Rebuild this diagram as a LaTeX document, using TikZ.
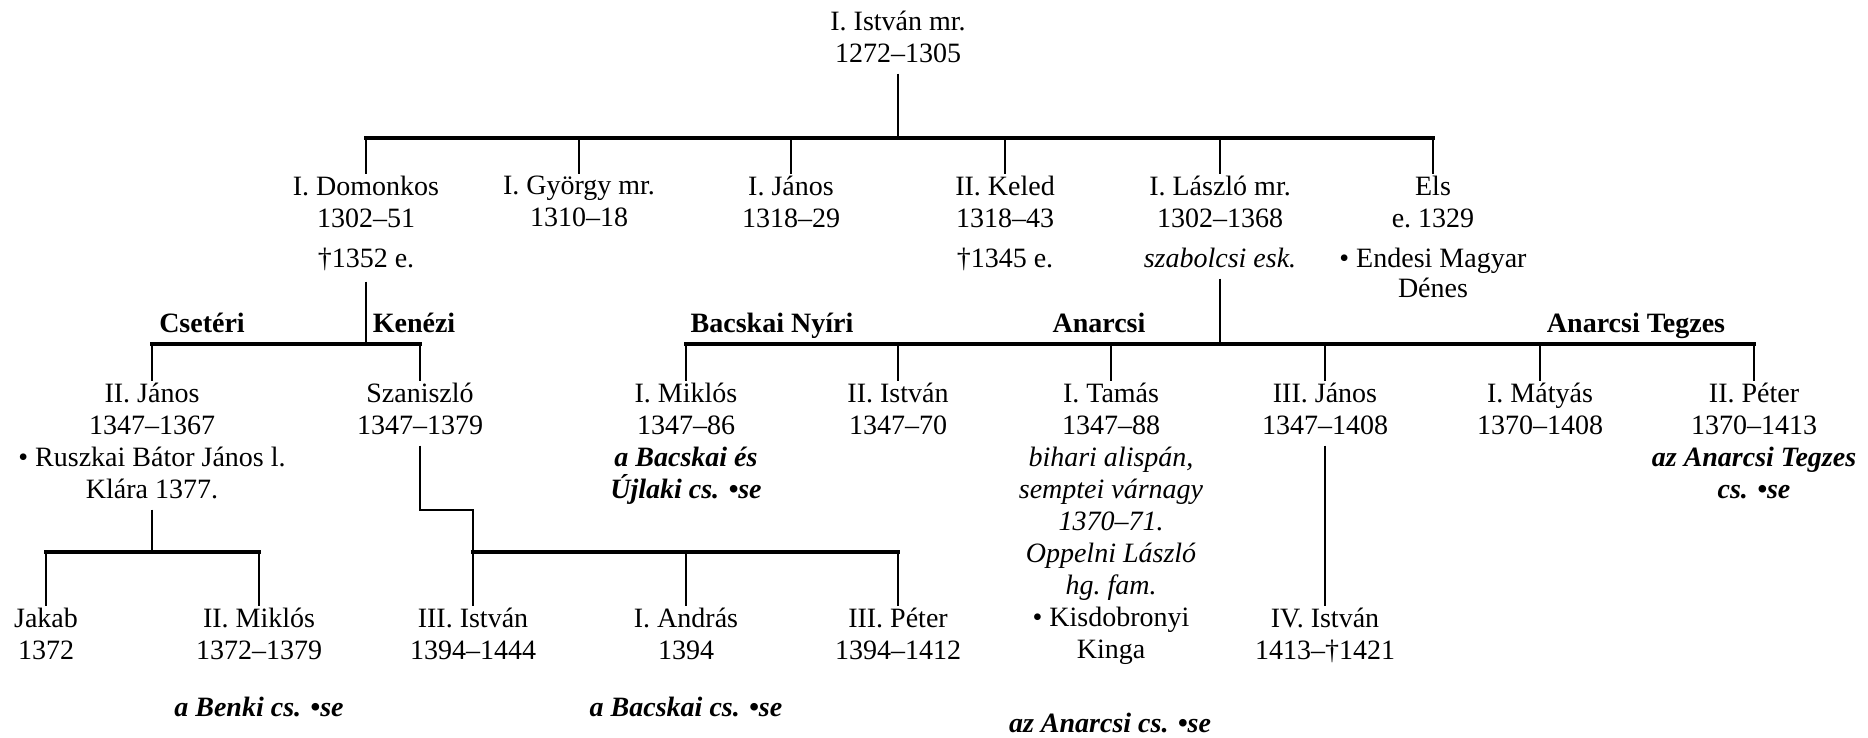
\documentclass[tikz,border=0pt]{standalone}
\usepackage{fontspec}
\setmainfont{Liberation Serif}
\usepackage{tikz}
\newcommand{\famsize}{\fontsize{14}{16}\selectfont}
\tikzset{
  person/.style={anchor=north, align=center, inner xsep=0pt, inner ysep=1pt},
  clan/.style={anchor=base, font=\famsize\bfseries},
  branchnote/.style={anchor=base, font=\famsize\bfseries\itshape},
  stem/.style={line width=1.2pt},
  stemdown/.style={stem, shorten <=4pt},
  bar/.style={line width=1.6pt, line cap=rect}
}
\begin{document}
\begin{tikzpicture}[x=0.5pt, y=-0.5pt, font=\famsize]
\useasboundingbox (0,0) rectangle (1868,738);
\node[name=istvan_1, person] at (898,9) {I. István mr.\\1272–1305};

\node[name=domonkos_1, person] at (366,174) {I. Domonkos\\1302–51\\[4pt]†1352 e.};
\node[name=gyorgy_1, person] at (579,174) {I. György mr.\\1310–18};
\node[name=janos_1, person] at (791,174) {I. János\\1318–29};
\node[name=keled_2, person] at (1005,174) {II. Keled\\1318–43\\[4pt]†1345 e.};
\node[name=laszlo_1, person] at (1220,174) {I. László mr.\\1302–1368\\[4pt]\textit{szabolcsi esk.}};
\node[name=els, person] at (1433,174) {Els\\e.\ 1329\\[4pt]• Endesi Magyar\\[-1pt]Dénes};

\node[name=cseteri, clan] at (202,332) {Csetéri};
\node[name=kenezi, clan] at (414,332) {Kenézi};
\node[name=bacskai_nyiri, clan] at (772,332) {Bacskai Nyíri};
\node[name=anarcsi_cl, clan] at (1099,332) {Anarcsi};
\node[name=anarcsi_tegzes, clan] at (1636,332) {Anarcsi Tegzes};

\node[name=janos_2, person] at (152,381) {II. János\\1347–1367\\• Ruszkai Bátor János l.\\Klára 1377.};
\node[name=szaniszlo, person] at (420,381) {Szaniszló\\1347–1379};
\node[name=miklos_1, person] at (686,381) {I. Miklós\\1347–86\\\textbf{\textit{a Bacskai és}}\\\textbf{\textit{Újlaki cs. •se}}};
\node[name=istvan_2, person] at (898,381) {II. István\\1347–70};
\node[name=tamas_1, person] at (1111,381) {I. Tamás\\1347–88\\\textit{bihari alispán,}\\\textit{semptei várnagy}\\\textit{1370–71.}\\\textit{Oppelni László}\\\textit{hg.\ fam.}\\• Kisdobronyi\\Kinga};
\node[name=janos_3, person] at (1325,381) {III. János\\1347–1408};
\node[name=matyas_1, person] at (1540,381) {I. Mátyás\\1370–1408};
\node[name=peter_2, person] at (1754,381) {II. Péter\\1370–1413\\\textbf{\textit{az Anarcsi Tegzes}}\\\textbf{\textit{cs. •se}}};

\node[name=jakab, person] at (46,606) {Jakab\\1372};
\node[name=miklos_2, person] at (259,606) {II. Miklós\\1372–1379};
\node[name=istvan_3, person] at (473,606) {III. István\\1394–1444};
\node[name=andras_1, person] at (686,606) {I. András\\1394};
\node[name=peter_3, person] at (898,606) {III. Péter\\1394–1412};
\node[name=istvan_4, person] at (1325,606) {IV. István\\1413–†1421};

\node[name=benki_cs, branchnote] at (259,716) {a Benki cs. •se};
\node[name=bacskai_cs, branchnote] at (686,716) {a Bacskai cs. •se};
\node[name=anarcsi_cs, branchnote] at (1110,732) {az Anarcsi cs. •se};

\coordinate (bar_1) at (898,138);
\coordinate (bar_2) at (0,344);
\coordinate (bar_3) at (0,552);
\coordinate (step_1) at (473,510);

\draw[stemdown](istvan_1.south) -- (bar_1);
\draw[bar](domonkos_1.north |- bar_1) -- (els.north |- bar_1);
\draw[stem](domonkos_1.north |- bar_1) -- (domonkos_1.north);
\draw[stem](gyorgy_1.north |- bar_1) -- (gyorgy_1.north);
\draw[stem](janos_1.north |- bar_1) -- (janos_1.north);
\draw[stem](keled_2.north |- bar_1) -- (keled_2.north);
\draw[stem](laszlo_1.north |- bar_1) -- (laszlo_1.north);
\draw[stem](els.north |- bar_1) -- (els.north);

\draw[stemdown](domonkos_1.south) -- (domonkos_1.south |- bar_2);
\draw[bar](janos_2.north |- bar_2) -- (szaniszlo.north |- bar_2);
\draw[stem](janos_2.north |- bar_2) -- (janos_2.north);
\draw[stem](szaniszlo.north |- bar_2) -- (szaniszlo.north);

\draw[stemdown](laszlo_1.south) -- (laszlo_1.south |- bar_2);
\draw[bar](miklos_1.north |- bar_2) -- (peter_2.north |- bar_2);
\draw[stem](miklos_1.north |- bar_2) -- (miklos_1.north);
\draw[stem](istvan_2.north |- bar_2) -- (istvan_2.north);
\draw[stem](tamas_1.north |- bar_2) -- (tamas_1.north);
\draw[stem](janos_3.north |- bar_2) -- (janos_3.north);
\draw[stem](matyas_1.north |- bar_2) -- (matyas_1.north);
\draw[stem](peter_2.north |- bar_2) -- (peter_2.north);

\draw[stemdown](janos_2.south) -- (janos_2.south |- bar_3);
\draw[bar](jakab.north |- bar_3) -- (miklos_2.north |- bar_3);
\draw[stem](jakab.north |- bar_3) -- (jakab.north);
\draw[stem](miklos_2.north |- bar_3) -- (miklos_2.north);

\draw[stemdown](szaniszlo.south) |- (step_1) -- (istvan_3.north |- bar_3);
\draw[bar](istvan_3.north |- bar_3) -- (peter_3.north |- bar_3);
\draw[stem](istvan_3.north |- bar_3) -- (istvan_3.north);
\draw[stem](andras_1.north |- bar_3) -- (andras_1.north);
\draw[stem](peter_3.north |- bar_3) -- (peter_3.north);

\draw[stemdown](janos_3.south) -- (istvan_4.north);
\end{tikzpicture}
\end{document}
